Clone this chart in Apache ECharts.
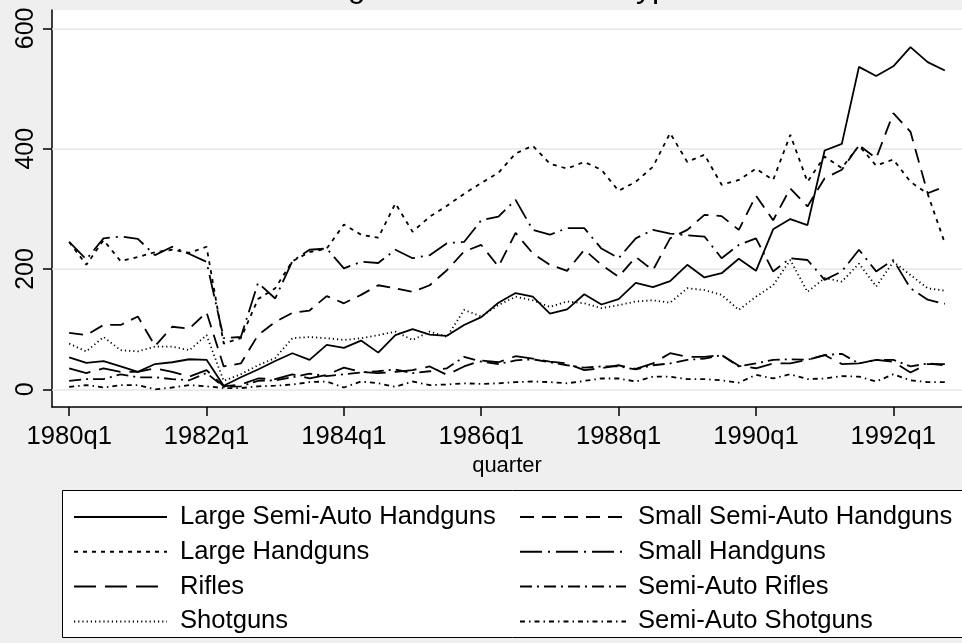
<!DOCTYPE html>
<html><head><meta charset="utf-8">
<script src="https://cdn.jsdelivr.net/npm/echarts@6/dist/echarts.min.js"></script>
<style>html,body{margin:0;padding:0;background:#efefef}#c{width:962px;height:643px}</style>
</head><body><div id="c"></div>
<script>
// ---- data ----
const startYear = 1980;
const titleText = 'Firearm Tracing Results for Each Type';
const xAxisTitle = 'quarter';
const xTickQuarters = [0, 8, 16, 24, 32, 40, 48];
const yTicks = [0, 200, 400, 600];

const nameLSA = 'Large Semi-Auto Handguns';
const nameSSA = 'Small Semi-Auto Handguns';
const nameLH = 'Large Handguns';
const nameSH = 'Small Handguns';
const nameRif = 'Rifles';
const nameSAR = 'Semi-Auto Rifles';
const nameShot = 'Shotguns';
const nameSAS = 'Semi-Auto Shotguns';

const largeSemiAuto = [53,44,47,38,29,42,45,50,49,6, 20,33,47,60,49,74,69,81,61,90, 100,91,89,107,120,144,160,154,126,133, 158,141,150,177,170,180,207,186,193,217, 197,266,283,273,397,408,536,521,537,569, 544,530];
const smallSemiAuto = [94,90,107,107,121,72,104,101,128,38, 43,90,112,127,131,155,143,157,173,168, 162,173,198,229,240,204,260,226,207,197, 232,207,187,220,198,251,265,290,288,265, 322,281,334,304,351,365,406,384,459,428, 326,337];
const largeHandguns = [245,207,248,213,220,228,232,227,237,76, 85,150,168,213,228,234,274,257,252,309, 262,287,305,325,343,360,392,405,375,367, 378,365,330,345,370,426,378,390,340,348, 367,348,423,345,387,368,405,372,382,345, 325,243];
const smallHandguns = [245,216,251,254,250,223,237,225,212,85, 87,177,151,213,232,234,201,212,210,232, 218,223,243,245,281,287,315,265,257,268, 268,234,218,251,265,259,256,254,218,240, 251,196,218,215,182,196,232,196,215,168, 149,142];
const rifles = [35,27,35,29,29,35,29,21,32,5, 8,18,17,25,18,24,36,29,27,29, 32,38,24,38,48,45,55,51,46,43, 32,35,40,34,43,60,54,54,57,39, 35,43,43,49,57,42,43,49,46,28, 42,42];
const semiAutoRifles = [14,17,17,25,20,20,17,15,27,4, 5,14,15,20,26,22,25,28,30,33, 27,30,35,54,46,42,48,50,45,40, 36,38,38,33,40,43,49,51,57,38, 43,49,50,49,57,59,43,49,49,38, 43,40];
const shotguns = [76,63,87,65,63,71,71,65,90,14, 25,40,52,85,87,85,82,85,90,96, 82,96,87,132,121,140,154,148,137,146, 143,135,140,146,148,144,168,165,157,132, 154,173,215,162,185,179,209,171,212,190, 168,164];
const semiAutoShotguns = [4,7,3,7,7,0,3,7,5,2, 2,5,6,8,12,13,3,13,10,4, 13,7,8,10,9,10,12,13,12,10, 14,18,18,13,21,21,17,17,15,11, 24,18,25,17,18,22,21,13,25,15, 12,12];

// ---- chart ----
const FONT = '"Liberation Sans", Arial, Helvetica, sans-serif';
const quarterLabel = v => (startYear + Math.floor(v / 4)) + 'q' + (v % 4 + 1);
const toPts = arr => arr.map((v, i) => [i, v]);

const styles = [
  [nameLSA, largeSemiAuto, 'solid'],
  [nameSSA, smallSemiAuto, [14, 8]],
  [nameLH, largeHandguns, [4, 5]],
  [nameSH, smallHandguns, [22, 6, 2, 6]],
  [nameRif, rifles, [22, 9]],
  [nameSAR, semiAutoRifles, [12, 5, 2, 5]],
  [nameShot, shotguns, [1.2, 3]],
  [nameSAS, semiAutoShotguns, [5, 4, 1.5, 4]]
];

const series = [{
  name: '__grid', type: 'line', data: [], z: 1,
  markLine: {
    silent: true, symbol: 'none', z: 1, animation: false,
    label: { show: false },
    lineStyle: { color: '#e6e6e6', width: 1.5, type: 'solid' },
    data: yTicks.map(v => ({ yAxis: v }))
  }
}].concat(styles.map(([n, arr, t]) => ({
  name: n, type: 'line', data: toPts(arr), symbol: 'none', z: 3,
  lineStyle: { color: '#000', width: 1.8, type: t },
  itemStyle: { color: '#000' }
})));

const legendBase = {
  orient: 'vertical', top: 504, itemHeight: 2, itemGap: 8.8,
  selectedMode: false, padding: 0, z: 6,
  itemStyle: { opacity: 0, borderWidth: 0 },
  textStyle: { fontSize: 25.6, lineHeight: 25, color: '#000', fontFamily: FONT }
};

const option = {
  animation: false,
  backgroundColor: '#efefef',
  textStyle: { fontFamily: FONT },
  title: {
    text: titleText, left: 136, top: -33,
    textStyle: { fontSize: 32, fontWeight: 'normal', color: '#000', fontFamily: FONT }
  },
  grid: { left: 52, top: 10, right: -9, bottom: 236, show: true, backgroundColor: '#fff', borderWidth: 0, containLabel: false },
  xAxis: {
    type: 'value', min: -1, max: 52,
    name: xAxisTitle, nameLocation: 'middle', nameGap: 46,
    nameTextStyle: { fontSize: 22, color: '#000', fontFamily: FONT },
    axisLine: { show: true, onZero: false, lineStyle: { color: '#000', width: 1.5 } },
    axisTick: { show: true, customValues: xTickQuarters, length: 9, lineStyle: { color: '#000', width: 1.5 } },
    axisLabel: { customValues: xTickQuarters, formatter: quarterLabel, fontSize: 25.6, margin: 17, color: '#000', fontFamily: FONT },
    splitLine: { show: false }
  },
  yAxis: {
    type: 'value', min: -29.4, max: 630.6,
    axisLine: { show: true, onZero: false, lineStyle: { color: '#000', width: 1.5 } },
    axisTick: { show: true, customValues: yTicks, length: 9, lineStyle: { color: '#000', width: 1.5 } },
    axisLabel: { customValues: yTicks, rotate: 90, fontSize: 25, margin: 13, color: '#000', fontFamily: FONT },
    splitLine: { show: false }
  },
  legend: [
    Object.assign({}, legendBase, {
      left: 73, itemWidth: 93,
      data: [nameLSA, nameLH, nameRif, nameShot],
      textStyle: Object.assign({}, legendBase.textStyle, { padding: [0, 0, 0, 8] })
    }),
    Object.assign({}, legendBase, {
      left: 519, itemWidth: 106,
      data: [nameSSA, nameSH, nameSAR, nameSAS],
      textStyle: Object.assign({}, legendBase.textStyle, { padding: [0, 0, 0, 7] })
    })
  ],
  graphic: [{
    type: 'rect', z: 0,
    shape: { x: 62.5, y: 490.5, width: 1000, height: 147 },
    style: { fill: '#fff', stroke: '#000', lineWidth: 1 }
  }],
  series: series
};

const chart = echarts.init(document.getElementById('c'), null, { renderer: 'canvas' });
chart.setOption(option);
</script>
</body></html>
